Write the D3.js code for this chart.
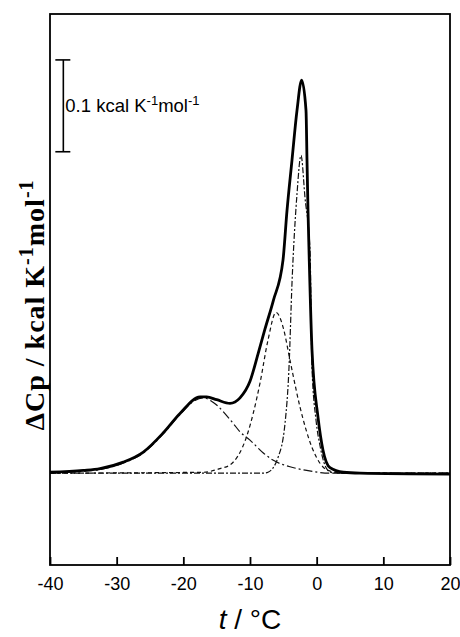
<!DOCTYPE html>
<html>
<head>
<meta charset="utf-8">
<script src="https://cdn.jsdelivr.net/npm/d3@7"></script>
<style>
  body { margin: 0; background: #fff; }
  svg { display: block; }
</style>
</head>
<body>
<svg id="chart" width="460" height="637"></svg>
<script>
// total DSC curve (solid)
var totalT = [-40, -35, -32.5, -29, -26, -23, -20.5, -17.5, -16.5, -15, -13, -11.5, -10, -8.75, -7.75, -6.5, -5.05, -4.45, -3.7, -2.95, -2.25, -1.6, -1.45, -1.3, -1.15, -0.7, 0.2, 0.95, 2, 4, 6.5, 20];
var totalCp = [0.001, 0.003, 0.005, 0.012, 0.023, 0.044, 0.065, 0.083, 0.083, 0.080, 0.076, 0.082, 0.100, 0.131, 0.157, 0.188, 0.232, 0.286, 0.341, 0.395, 0.428, 0.395, 0.341, 0.286, 0.243, 0.134, 0.061, 0.025, 0.006, 0.001, 0, -0.001];

// deconvoluted components
var peak1T = [-40, -35, -32.5, -29, -26, -23, -20.5, -18.5, -17, -15.5, -12.5, -11.5, -10, -8, -6.5, -4, -1.5, 2, 20];
var peak1Cp = [0, 0.002, 0.004, 0.011, 0.022, 0.043, 0.064, 0.078, 0.082, 0.077, 0.054, 0.045, 0.036, 0.022, 0.014, 0.007, 0.003, 0, 0];

var peak2T = [-40, -17, -14.5, -13, -10.5, -8.5, -7.3, -6.1, -5, -4, -2.5, -0.7, 1.7, 4, 20];
var peak2Cp = [0, 0.001, 0.005, 0.009, 0.040, 0.098, 0.145, 0.175, 0.158, 0.123, 0.072, 0.028, 0.003, 0, 0];

var peak3T = [-40, -8, -7.3, -5.8, -4.75, -4.15, -3.7, -2.95, -2.35, -1.75, -1.0, -0.7, -0.1, 0.5, 1.7, 2.75, 20];
var peak3Cp = [0, 0, 0.001, 0.017, 0.054, 0.115, 0.207, 0.304, 0.346, 0.30, 0.243, 0.115, 0.058, 0.03, 0.003, 0, 0];

var xTicks = [-40, -30, -20, -10, 0, 10, 20];

var svg = d3.select('#chart');
var margin = {left: 50, right: 10, top: 14, bottom: 72};
var W = 460, H = 637;

var x = d3.scaleLinear().domain([-40, 20]).range([margin.left, W - margin.right]);
var y = d3.scaleLinear().domain([-0.1, 0.5]).range([H - margin.bottom, margin.top]);

function zip(ts, vs) {
  return ts.map(function(t, i) { return [t, vs[i]]; });
}

var line = d3.line()
  .x(function(d) { return x(d[0]); })
  .y(function(d) { return y(d[1]); })
  .curve(d3.curveMonotoneX);

// components
var comps = [
  {data: zip(peak1T, peak1Cp), dash: '9,3,2,3'},
  {data: zip(peak2T, peak2Cp), dash: '4,3'},
  {data: zip(peak3T, peak3Cp), dash: '6,2,2,2'}
];
svg.selectAll('path.comp').data(comps).enter().append('path')
  .attr('class', 'comp')
  .attr('d', function(d) { return line(d.data); })
  .attr('fill', 'none')
  .attr('stroke', '#111')
  .attr('stroke-width', 1.2)
  .attr('stroke-dasharray', function(d) { return d.dash; });

svg.append('path')
  .attr('d', line(zip(totalT, totalCp)))
  .attr('fill', 'none')
  .attr('stroke', '#000')
  .attr('stroke-width', 2.8)
  .attr('stroke-linejoin', 'round');

// frame
svg.append('rect')
  .attr('x', x(-40)).attr('y', y(0.5))
  .attr('width', x(20) - x(-40)).attr('height', y(-0.1) - y(0.5))
  .attr('fill', 'none').attr('stroke', '#000').attr('stroke-width', 1.8);

// bottom axis, ticks pointing inward
var xAxis = d3.axisBottom(x).tickValues(xTicks).tickSizeInner(-8).tickSizeOuter(0)
  .tickFormat(function(d) { return d; });
var gx = svg.append('g').attr('transform', 'translate(0,' + y(-0.1) + ')').call(xAxis);
gx.select('.domain').remove();
gx.selectAll('.tick line').attr('stroke', '#000').attr('stroke-width', 1.8);
gx.selectAll('.tick text')
  .attr('y', 25)
  .attr('dy', 0)
  .attr('font-family', 'Liberation Sans, Arial, sans-serif')
  .attr('font-size', 18)
  .attr('fill', '#000')
  .text(function(d) { return String(d).replace('\u2212', '-'); });

// scale bar 0.1 kcal
var barT = -38, barLo = 0.35, barHi = 0.45;
var bar = svg.append('g').attr('stroke', '#000').attr('stroke-width', 1.6);
bar.append('line').attr('x1', x(barT)).attr('x2', x(barT)).attr('y1', y(barLo)).attr('y2', y(barHi));
bar.append('line').attr('x1', x(barT) - 8).attr('x2', x(barT) + 7).attr('y1', y(barLo)).attr('y2', y(barLo));
bar.append('line').attr('x1', x(barT) - 8).attr('x2', x(barT) + 7).attr('y1', y(barHi)).attr('y2', y(barHi));

var barLabel = svg.append('text')
  .attr('x', x(barT) + 2).attr('y', y((barLo + barHi) / 2) + 6)
  .attr('font-family', 'Liberation Sans, Arial, sans-serif')
  .attr('font-size', 18.5).attr('fill', '#000');
barLabel.append('tspan').text('0.1 kcal K');
barLabel.append('tspan').attr('dy', -7).attr('font-size', 13).text('-1');
barLabel.append('tspan').attr('dy', 7).text('mol');
barLabel.append('tspan').attr('dy', -7).attr('font-size', 13).text('-1');

// x title
var xt = svg.append('text')
  .attr('x', x(-10)).attr('y', 629)
  .attr('text-anchor', 'middle')
  .attr('font-family', 'Liberation Sans, Arial, sans-serif')
  .attr('font-size', 28).attr('fill', '#000');
xt.append('tspan').attr('font-style', 'italic').text('t');
xt.append('tspan').text(' / \u00B0C');

// y title
var yt = svg.append('text')
  .attr('transform', 'translate(44,305) rotate(-90)')
  .attr('text-anchor', 'middle')
  .attr('font-family', 'Liberation Serif, Times New Roman, serif')
  .attr('font-weight', 'bold')
  .attr('letter-spacing', 1)
  .attr('font-size', 28).attr('fill', '#000');
yt.append('tspan').text('\u0394Cp / kcal K');
yt.append('tspan').attr('dy', -11).attr('font-size', 20).text('-1');
yt.append('tspan').attr('dy', 11).text('mol');
yt.append('tspan').attr('dy', -11).attr('font-size', 20).text('-1');
</script>
</body>
</html>
